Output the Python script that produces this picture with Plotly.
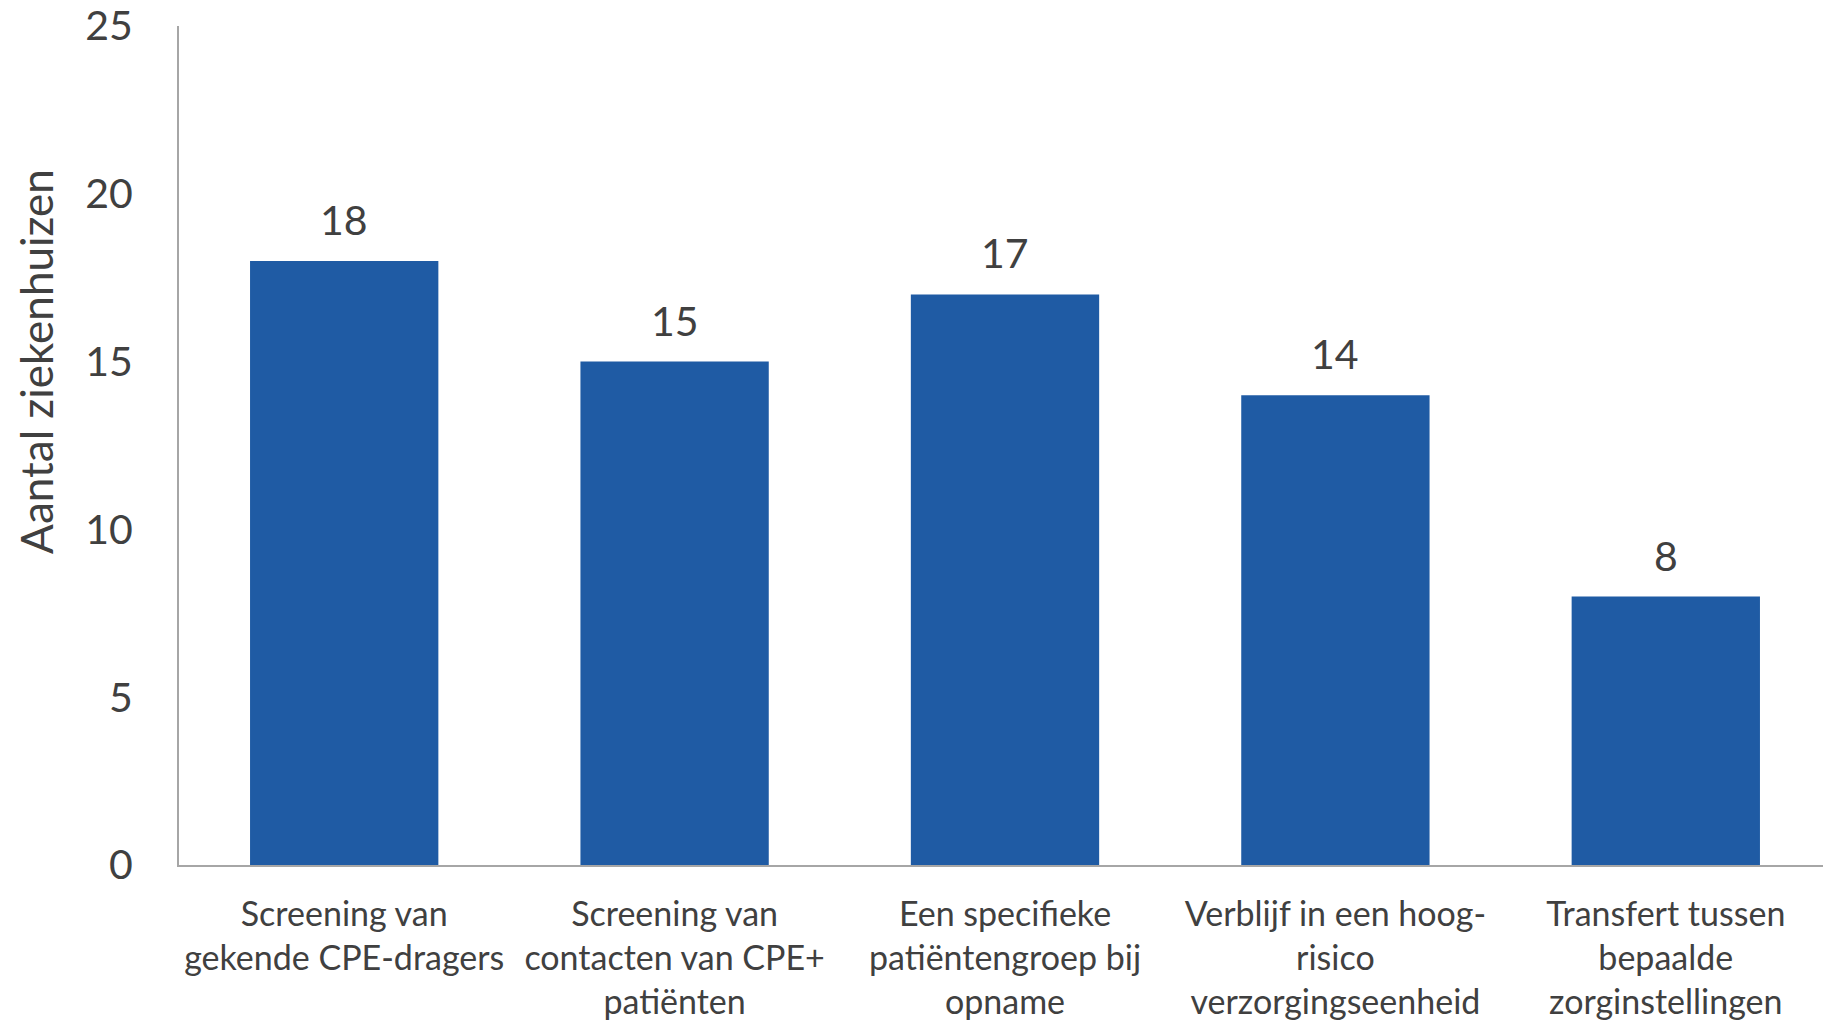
import plotly.graph_objects as go

categories = [
    "Screening van<br>gekende CPE-dragers",
    "Screening van<br>contacten van CPE+<br>patiënten",
    "Een specifieke<br>patiëntengroep bij<br>opname",
    "Verblijf in een hoog-<br>risico<br>verzorgingseenheid",
    "Transfert tussen<br>bepaalde<br>zorginstellingen",
]
values = [18, 15, 17, 14, 8]
y_ticks = [0, 5, 10, 15, 20, 25]
y_title = "Aantal ziekenhuizen"

FONT = "Lato"
TXT = "#404040"
BAR = "#1F5BA4"

fig = go.Figure()
fig.add_trace(go.Bar(x=categories, y=values, marker=dict(color=BAR, line=dict(width=0)),
                     hoverinfo="skip"))

for c, v in zip(categories, values):
    fig.add_annotation(x=c, y=v, text=str(v), showarrow=False, yanchor="bottom",
                       yshift=15, font=dict(family=FONT, size=41, color=TXT))

fig.add_annotation(xref="paper", yref="paper", x=-0.087, y=0.6, text=y_title,
                   textangle=-90, showarrow=False, xanchor="center", yanchor="middle",
                   font=dict(family=FONT, size=44, color=TXT))

fig.update_layout(
    width=1823, height=1016,
    margin=dict(l=171, r=0, t=18, b=159),
    plot_bgcolor="white", paper_bgcolor="white",
    bargap=0.43,
    showlegend=False,
    font=dict(family=FONT, color=TXT),
)
fig.update_xaxes(
    showline=True, linecolor="#A6A6A6", linewidth=2,
    showgrid=False, ticks="", ticklabelstandoff=18, automargin=False,
    ticklabeloverflow="allow",
    tickfont=dict(family=FONT, size=34, color=TXT),
)
fig.update_yaxes(
    range=[0, 25], tickvals=y_ticks, showgrid=False, zeroline=False,
    showline=True, linecolor="#A6A6A6", linewidth=2,
    ticks="", ticklabelstandoff=36, automargin=False,
    ticklabeloverflow="allow",
    tickfont=dict(family=FONT, size=41, color=TXT),
)

fig.write_html("out.html")
